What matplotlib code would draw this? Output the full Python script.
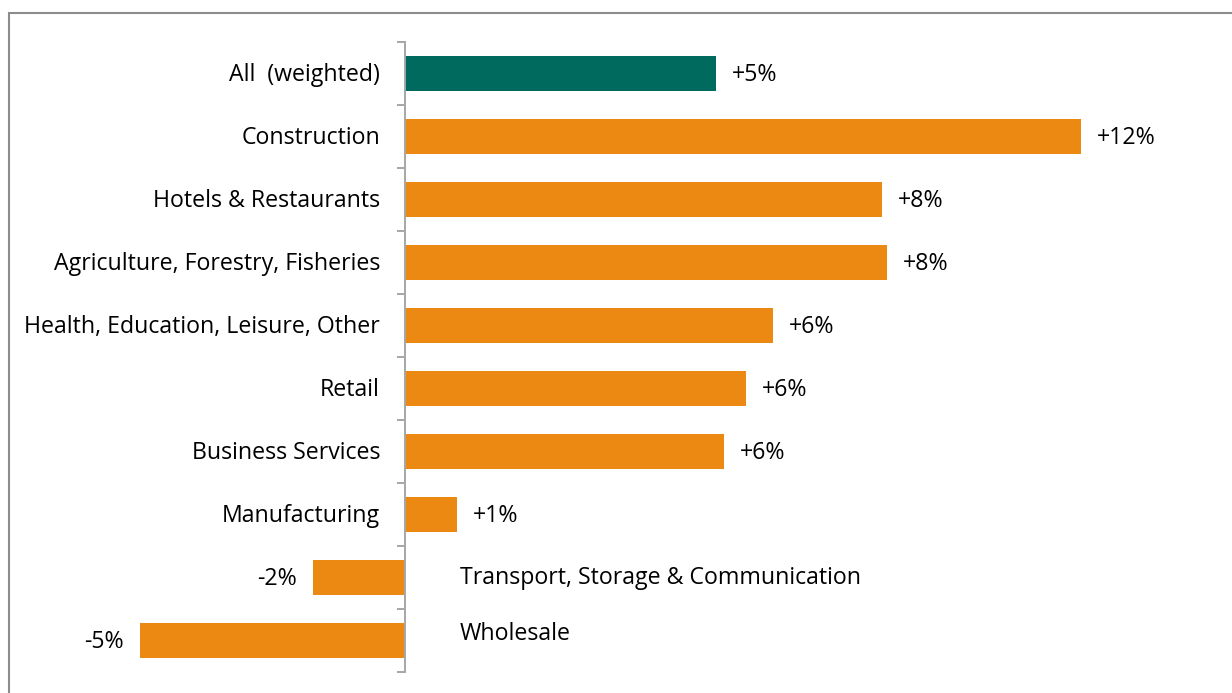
import matplotlib
matplotlib.use("Agg")
import matplotlib.pyplot as plt
from matplotlib.patches import Rectangle

plt.rcParams['font.family'] = ['Open Sans', 'DejaVu Sans']

sectors = ["All  (weighted)", "Construction", "Hotels & Restaurants",
           "Agriculture, Forestry, Fisheries", "Health, Education, Leisure, Other",
           "Retail", "Business Services", "Manufacturing",
           "Transport, Storage & Communication", "Wholesale"]
change = [5.45, 11.86, 8.37, 8.46, 6.45, 5.98, 5.60, 0.91, -1.61, -4.65]

TEAL = "#016A5E"
ORANGE = "#EB8913"
GREY = "#A6A6A6"
FS = 16.7

W, H = 1232, 693
fig = plt.figure(figsize=(W / 100, H / 100), dpi=100)

# pixel layout of the plot area: zero line at x=405, 57 px per percent point
x0_px, px_per_pt = 405, 57.0
left_px, right_px = 120, 1210
top_px, bottom_px = 42, 672
ax = fig.add_axes([left_px / W, 1 - bottom_px / H,
                   (right_px - left_px) / W, (bottom_px - top_px) / H])
ax.set_xlim((left_px - x0_px) / px_per_pt, (right_px - x0_px) / px_per_pt)
ax.set_ylim(len(sectors) - 0.5, -0.5)

colors = [TEAL] + [ORANGE] * (len(sectors) - 1)
ypos = list(range(len(sectors)))
ax.barh(ypos, change, height=0.57, color=colors, zorder=2)

pad = 16 / px_per_pt
for y, name, v in zip(ypos, sectors, change):
    lab = f"{v:+.0f}%"
    if v >= 0:
        ax.text(v + pad, y + 0.03, lab, ha="left", va="center", fontsize=FS)
        ax.text(-25 / px_per_pt, y + 0.03, name, ha="right", va="center", fontsize=FS)
    else:
        ax.text(v - pad, y + 0.03, lab, ha="right", va="center", fontsize=FS)
        dy = -0.1 if y == len(sectors) - 1 else 0
        ax.text(55 / px_per_pt, y + dy, name, ha="left", va="center", fontsize=FS)

for s in ["top", "right", "bottom"]:
    ax.spines[s].set_visible(False)
ax.spines["left"].set_position(("data", 0))
ax.spines["left"].set_color(GREY)
ax.spines["left"].set_linewidth(1.4)
ax.set_xticks([])
ax.set_yticks([i - 0.5 for i in range(len(sectors) + 1)])
ax.set_yticklabels([])
ax.tick_params(axis="y", direction="out", length=6, width=1.4, color=GREY)

# outer frame, running off the right and bottom edges
fig.patches.append(Rectangle((9 / W, -0.05), 1.1, 1.05 - 13 / H,
                             transform=fig.transFigure, fill=False,
                             edgecolor="#8C8C8C", linewidth=1.5))

fig.savefig("out.png", dpi=100)
